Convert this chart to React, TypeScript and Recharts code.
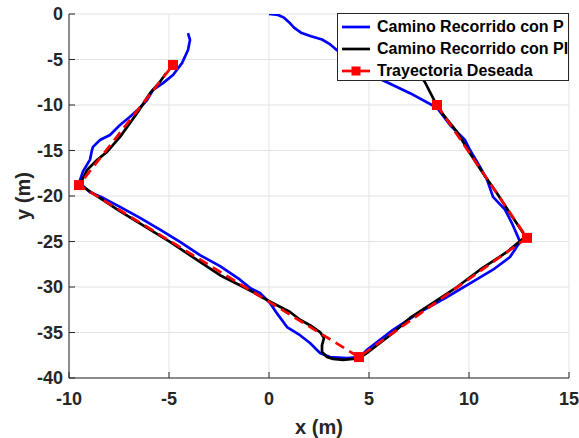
import { ComposedChart, Line, XAxis, YAxis, CartesianGrid, Legend } from 'recharts'

// tick values of both axes
const xTicks = [-10, -5, 0, 5, 10, 15]
const yTicks = [-40, -35, -30, -25, -20, -15, -10, -5, 0]

// path followed with the P controller (x, y in m)
const caminoP: [number, number][] = [
  [0, 0], [0.45, -0.1], [0.75, -0.4], [1.0, -0.9], [1.25, -1.5], [1.6, -2.05],
  [2.1, -2.45], [2.65, -2.8], [3.0, -3.25], [3.3, -3.8],
  [4.2, -5.3], [5.0, -6.6], [5.9, -7.5], [7.05, -8.7], [8.4, -10.3], [9.05, -12.2],
  [9.8, -13.85], [10.05, -14.95], [10.55, -16.8], [10.9, -18.2], [11.2, -20.1],
  [11.8, -21.5], [12.15, -23.0], [12.45, -24.5], [12.55, -25.05], [12.05, -26.7],
  [11.2, -28.1], [10.05, -29.6], [8.9, -31.1], [8.0, -32.2], [7.55, -32.75],
  [6.2, -34.7], [4.9, -36.9], [4.55, -37.7], [3.9, -37.8], [3.05, -37.7],
  [2.55, -37.25], [2.05, -36.15], [1.55, -35.3], [0.9, -34.4], [0.4, -32.9],
  [0.05, -31.75], [-0.45, -30.65], [-0.95, -30.1], [-1.45, -29.2], [-2.45, -27.7],
  [-3.45, -26.5], [-4.45, -25.05], [-5.45, -23.7], [-6.45, -22.4], [-7.45, -21.2],
  [-8.3, -20.2], [-8.95, -19.6], [-9.35, -18.8], [-9.45, -18.25], [-9.3, -17.3],
  [-8.95, -16.0], [-8.85, -14.95], [-8.8, -14.6], [-8.45, -13.85], [-7.95, -13.3],
  [-7.45, -12.2], [-6.95, -11.3], [-6.45, -10.3], [-6.1, -9.45], [-5.8, -8.35],
  [-5.3, -7.6], [-4.8, -6.7], [-4.35, -5.4], [-4.05, -3.95], [-3.95, -2.85],
  [-4.05, -2.1],
]

// path followed with the PI controller
const caminoPI: [number, number][] = [
  [7.5, -6.6], [7.8, -7.5], [8.3, -9.65], [8.65, -10.9], [9.4, -12.95], [10.05, -15.3],
  [10.7, -17.5], [11.4, -19.7], [12.05, -21.9], [12.7, -24.05], [12.8, -24.5],
  [11.9, -26.15], [10.55, -28.1], [9.4, -30.0], [8.2, -31.75], [7.05, -33.4],
  [6.2, -35.05], [4.9, -37.25], [4.55, -37.8], [4.2, -37.9], [3.7, -38.0], [3.2, -37.9],
  [2.9, -37.7], [2.65, -37.15], [2.65, -36.4], [2.75, -35.6], [2.55, -34.95],
  [2.05, -34.2], [1.55, -33.6], [1.05, -32.75], [0.4, -32.0], [-0.3, -31.2],
  [-0.8, -30.55], [-1.45, -29.8], [-2.45, -28.7], [-4.95, -25.05], [-7.5, -21.6],
  [-9.3, -19.0], [-9.45, -18.7], [-9.35, -18.25], [-9.1, -17.15], [-8.6, -16.05],
  [-8.1, -15.15], [-7.45, -13.5], [-6.6, -10.9], [-5.95, -8.7], [-5.45, -7.45],
  [-5.15, -6.5],
]

// desired trajectory waypoints
const trayectoria: [number, number][] = [
  [8.4, -10.0], [12.9, -24.6], [4.5, -37.7], [-9.5, -18.8], [-4.8, -5.6],
]

const seriesNames = ['Camino Recorrido con P', 'Camino Recorrido con PI', 'Trayectoria Deseada']
const seriesColors = ['#0000ff', '#000000', '#ff0000']

const toPoints = (pts: [number, number][]) => pts.map(([x, y]) => ({ x, y }))

const FONT = '"Liberation Sans", Arial, Helvetica, sans-serif'
const AXIS = '#262626'
const LW = 2.7

const RedSquare = (props: any) => {
  const { cx, cy, index } = props
  if (cx == null || cy == null) return <g key={index} />
  return <rect key={index} x={cx - 5} y={cy - 5} width={10} height={10} fill="#ff0000" />
}

const YLabel = (props: any) => {
  const { viewBox } = props
  const cx = 23
  const cy = viewBox.y + viewBox.height / 2
  return (
    <text
      x={cx}
      y={cy}
      transform={`rotate(-90 ${cx} ${cy})`}
      textAnchor="middle"
      dominantBaseline="central"
      style={{ fontFamily: FONT, fontWeight: 700, fontSize: 20, fill: AXIS }}
    >
      y (m)
    </text>
  )
}

const XLabel = (props: any) => {
  const { viewBox } = props
  const cx = viewBox.x + viewBox.width / 2
  return (
    <text
      x={cx}
      y={427}
      textAnchor="middle"
      dominantBaseline="central"
      style={{ fontFamily: FONT, fontWeight: 700, fontSize: 20, fill: AXIS }}
    >
      x (m)
    </text>
  )
}

const LegendBox = () => (
  <div
    style={{
      width: 232,
      height: 68,
      boxSizing: 'border-box',
      border: `1px solid ${AXIS}`,
      background: '#fff',
      paddingTop: 2,
      fontFamily: FONT,
      fontWeight: 700,
      fontSize: 16,
      color: '#000',
    }}
  >
    {seriesNames.map((name, i) => (
      <div key={name} style={{ display: 'flex', alignItems: 'center', height: 22 }}>
        <svg width={36} height={12} style={{ marginLeft: 3, flex: 'none' }}>
          <line x1={1} y1={6} x2={29} y2={6} stroke={seriesColors[i]} strokeWidth={LW} />
          {i === 2 && <rect x={10.5} y={1.5} width={9} height={9} fill="#ff0000" />}
        </svg>
        <span style={{ whiteSpace: 'nowrap' }}>{name}</span>
      </div>
    ))}
  </div>
)

const tickStyle = { fontFamily: FONT, fontWeight: 700, fontSize: 18, fill: AXIS }

export default function App() {
  return (
    <div style={{ position: 'absolute', left: 0, top: 0, width: 579, height: 438, background: '#fff' }}>
      <ComposedChart width={579} height={438} margin={{ top: 14, right: 10, left: 0, bottom: 0 }}>
        <CartesianGrid stroke="#e3e3e3" strokeWidth={1} />
        <XAxis
          type="number"
          dataKey="x"
          domain={[-10, 15]}
          ticks={xTicks}
          allowDataOverflow
          height={60}
          stroke={AXIS}
          tickSize={-6}
          tickMargin={20}
          tick={tickStyle}
          label={<XLabel />}
        />
        <YAxis
          type="number"
          dataKey="y"
          domain={[-40, 0]}
          ticks={yTicks}
          allowDataOverflow
          width={69}
          stroke={AXIS}
          tickSize={-6}
          tickMargin={12}
          tick={tickStyle}
          label={<YLabel />}
        />
        <Line
          data={toPoints(caminoP)}
          dataKey="y"
          name={seriesNames[0]}
          type="linear"
          stroke={seriesColors[0]}
          strokeWidth={LW}
          strokeLinejoin="round"
          dot={false}
          activeDot={false}
          isAnimationActive={false}
        />
        <Line
          data={toPoints(caminoPI)}
          dataKey="y"
          name={seriesNames[1]}
          type="linear"
          stroke={seriesColors[1]}
          strokeWidth={LW}
          strokeLinejoin="round"
          dot={false}
          activeDot={false}
          isAnimationActive={false}
        />
        <Line
          data={toPoints(trayectoria)}
          dataKey="y"
          name={seriesNames[2]}
          type="linear"
          stroke={seriesColors[2]}
          strokeWidth={LW}
          strokeDasharray="10 6"
          dot={(p: any) => <RedSquare {...p} />}
          activeDot={false}
          isAnimationActive={false}
        />
        <Legend
          layout="vertical"
          align="center"
          verticalAlign="middle"
          wrapperStyle={{ position: 'absolute', left: 337, top: 13, width: 232, height: 68 }}
          content={() => <LegendBox />}
        />
      </ComposedChart>
    </div>
  )
}
